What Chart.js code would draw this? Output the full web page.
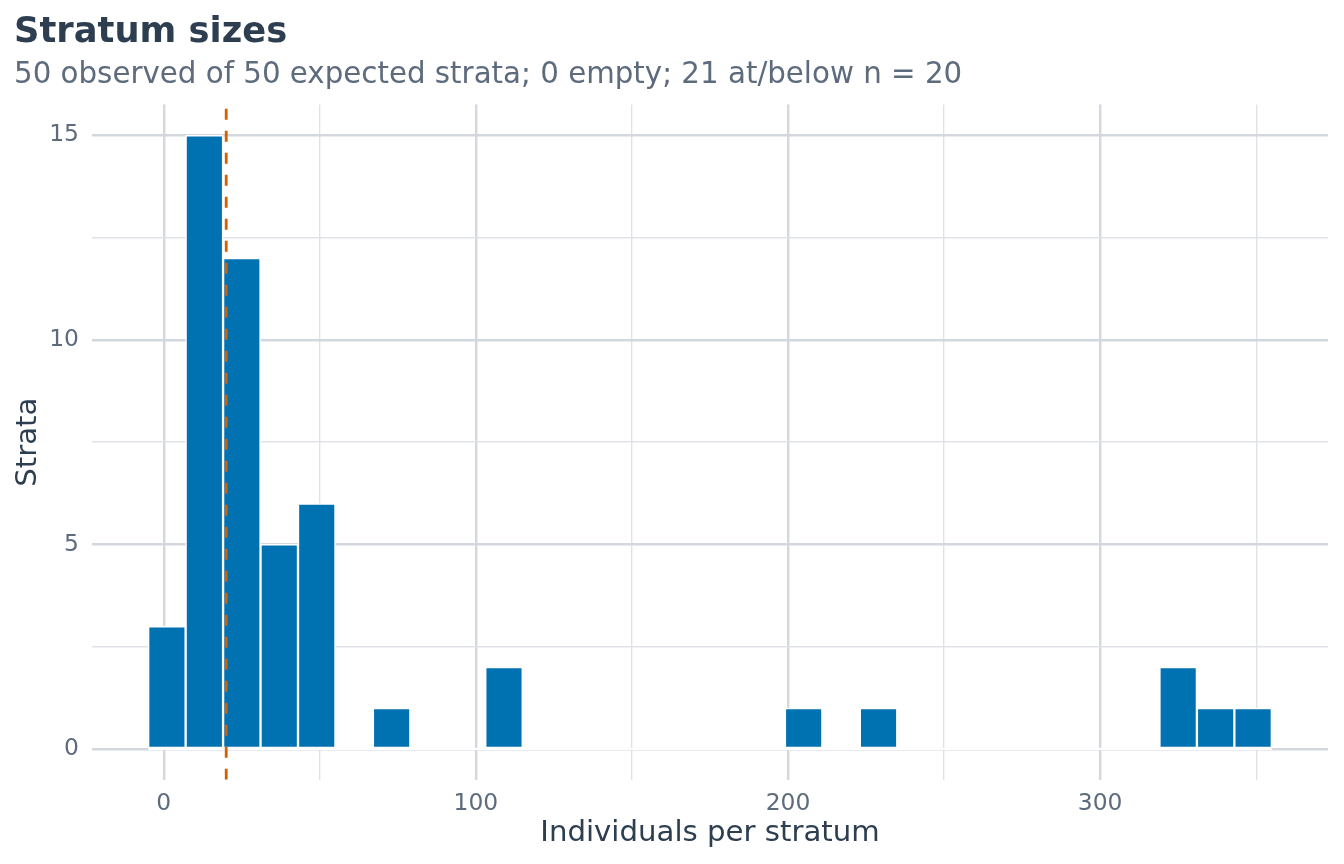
<!DOCTYPE html>
<html>
<head>
<meta charset="utf-8">
<title>Stratum sizes</title>
<script src="https://cdn.jsdelivr.net/npm/chart.js@4.4.1/dist/chart.umd.min.js"></script>
<style>
  html, body { margin: 0; padding: 0; background: #ffffff; }
  #wrap { width: 1344px; height: 864px; }
</style>
</head>
<body>
<div id="wrap"><canvas id="chart" width="1344" height="864"></canvas></div>
<script>
// ── Data ─────────────────────────────────────────────────────────────────────
const binCenters = [1, 13, 25, 37, 49, 61, 73, 85, 97, 109, 121, 133, 145, 157, 169,
                    181, 193, 205, 217, 229, 241, 253, 265, 277, 289, 301, 313, 325, 337, 349];
const strataCounts = [3, 15, 12, 5, 6, 0, 1, 0, 0, 2, 0, 0, 0, 0, 0,
                      0, 0, 1, 0, 1, 0, 0, 0, 0, 0, 0, 0, 2, 1, 1];
const binWidth = 12;
const sizeThreshold = 20;

const xTicks = [0, 50, 100, 150, 200, 250, 300, 350];
const xLabelTicks = [0, 100, 200, 300];
const yTicks = [0, 2.5, 5, 7.5, 10, 12.5, 15];
const yLabelTicks = [0, 5, 10, 15];
const xRange = [-23, 373];
const yRange = [-0.75, 15.75];

// ── Styling ──────────────────────────────────────────────────────────────────
const FONT = "'DejaVu Sans', 'Liberation Sans', sans-serif";
const BAR_BLUE = "#0072B2";
const THRESH_ORANGE = "#D55E00";
const GRID_MAJOR = "#D3D8DE";
const GRID_MINOR = "#DFE3E8";
const TEXT_DARK = "#2C3E50";
const TEXT_MUTED = "#5D6B7C";

Chart.defaults.font.family = FONT;
Chart.defaults.color = TEXT_MUTED;

const barData = binCenters.map((x, i) => ({ x, y: strataCounts[i] }));
const zeroLine = [
    { x: binCenters[0] - binWidth / 2, y: 0 },
    { x: binCenters[binCenters.length - 1] + binWidth / 2, y: 0 },
];
const thresholdLine = [
    { x: sizeThreshold, y: yRange[0] },
    { x: sizeThreshold, y: yRange[1] },
];

const ctx = document.getElementById("chart").getContext("2d");
new Chart(ctx, {
    type: "bar",
    data: {
        datasets: [
            {
                type: "line",
                data: thresholdLine,
                borderColor: THRESH_ORANGE,
                borderWidth: 2.8,
                borderDash: [11, 11],
                pointRadius: 0,
                fill: false,
                order: 0,
            },
            {
                data: barData,
                backgroundColor: BAR_BLUE,
                borderColor: "#ffffff",
                borderWidth: 1.5,
                borderSkipped: false,
                categoryPercentage: 1,
                barPercentage: 1,
                order: 2,
            },
            {
                type: "line",
                data: zeroLine,
                borderColor: "#ffffff",
                borderWidth: 1.8,
                pointRadius: 0,
                fill: false,
                order: 3,
            },
        ],
    },
    options: {
        responsive: false,
        animation: false,
        devicePixelRatio: 1,
        events: [],
        layout: { padding: { left: 14, right: 16, top: 0, bottom: 0 } },
        plugins: {
            legend: { display: false },
            tooltip: { enabled: false },
            title: {
                display: true,
                text: "Stratum sizes",
                align: "start",
                color: TEXT_DARK,
                font: { size: 35.3, weight: "bold", lineHeight: 1.2 },
                padding: { top: 11.5, bottom: 0 },
            },
            subtitle: {
                display: true,
                text: "50 observed of 50 expected strata; 0 empty; 21 at/below n = 20",
                align: "start",
                color: TEXT_MUTED,
                font: { size: 29.3, lineHeight: 1.2 },
                padding: { top: 4.4, bottom: 11.2 },
            },
        },
        scales: {
            x: {
                type: "linear",
                min: xRange[0],
                max: xRange[1],
                offset: false,
                afterBuildTicks: s => { s.ticks = xTicks.map(v => ({ value: v })); },
                afterFit: s => { s.height = 84.3; },
                grid: {
                    offset: false,
                    drawTicks: false,
                    color: c => xLabelTicks.includes(c.tick.value) ? GRID_MAJOR : GRID_MINOR,
                    lineWidth: c => xLabelTicks.includes(c.tick.value) ? 2.4 : 1.4,
                },
                border: { display: false },
                ticks: {
                    autoSkip: false,
                    maxRotation: 0,
                    padding: 10,
                    color: TEXT_MUTED,
                    font: { size: 23.4 },
                    callback: v => xLabelTicks.includes(v) ? String(v) : "",
                },
                title: {
                    display: true,
                    text: "Individuals per stratum",
                    color: TEXT_DARK,
                    font: { size: 29.2, lineHeight: 1.2 },
                    padding: { top: 0, bottom: 12.6 },
                },
            },
            y: {
                type: "linear",
                min: yRange[0],
                max: yRange[1],
                afterBuildTicks: s => { s.ticks = yTicks.map(v => ({ value: v })); },
                afterFit: s => { s.width = 78; },
                grid: {
                    drawTicks: false,
                    color: c => yLabelTicks.includes(c.tick.value) ? GRID_MAJOR : GRID_MINOR,
                    lineWidth: c => yLabelTicks.includes(c.tick.value) ? 2.4 : 1.4,
                },
                border: { display: false },
                ticks: {
                    autoSkip: false,
                    padding: 13,
                    color: TEXT_MUTED,
                    font: { size: 23.4 },
                    callback: v => yLabelTicks.includes(v) ? String(v) : "",
                },
                title: {
                    display: true,
                    text: "Strata",
                    color: TEXT_DARK,
                    font: { size: 29.2, lineHeight: 1 },
                    padding: { top: 0, bottom: 0 },
                },
            },
        },
    },
});
</script>
</body>
</html>
